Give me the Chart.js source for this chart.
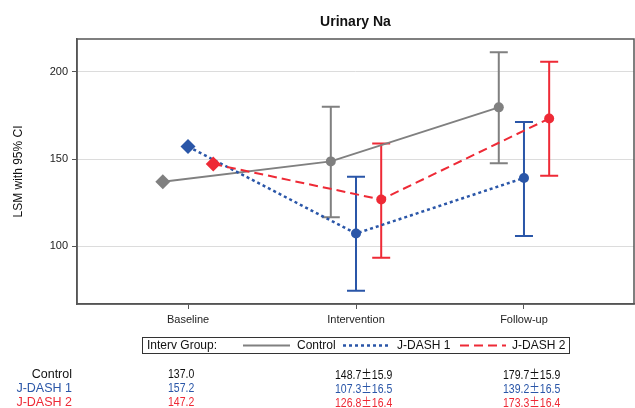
<!DOCTYPE html>
<html>
<head>
<meta charset="utf-8">
<script src="https://cdn.jsdelivr.net/npm/chart.js@4/dist/chart.umd.min.js"></script>
<style>
  html, body { margin: 0; padding: 0; background: #fff; }
  #wrap { position: relative; width: 635px; height: 408px; font-family: "Liberation Sans", Arial, sans-serif; }
  #c { position: absolute; left: 0; top: 0; }
  #title { position: absolute; left: 77px; width: 557px; top: 12px; text-align: center; font-weight: bold; font-size: 14px; color: #111; line-height: 18px; }
  #legend { position: absolute; left: 142px; top: 337px; width: 426px; height: 15px; border: 1px solid #333; font-size: 12px; color: #111; }
  #legend span, #legend svg { position: absolute; top: 0; line-height: 15px; }
  .row { position: absolute; font-size: 12.5px; line-height: 14px; white-space: nowrap; }
  .lab { text-align: right; width: 72px; left: 0; }
  .val { transform: scaleX(0.84); transform-origin: left center; }
  .pm { font-family: "Noto Sans CJK JP", sans-serif; }
</style>
</head>
<body>
<div id="wrap">
  <canvas id="c" width="635" height="408"></canvas>
  <div id="title"></div>
  <div id="legend"></div>
  <div id="table"></div>
</div>
<script>
// ---- data ----
const titleText = "Urinary Na";
const yAxisTitle = "LSM with 95% CI";
const categories = ["Baseline", "Intervention", "Follow-up"];
const yTicks = [100, 150, 200];
const seriesNames = ["Control", "J-DASH 1", "J-DASH 2"];
const controlMean = [137.0, 148.7, 179.7];
const jdash1Mean  = [157.2, 107.3, 139.2];
const jdash2Mean  = [147.2, 126.8, 173.3];
const controlSE = [null, 15.9, 15.9];
const jdash1SE  = [null, 16.5, 16.5];
const jdash2SE  = [null, 16.4, 16.4];
const controlLower = [null, 116.7, 147.7];
const controlUpper = [null, 180.0, 211.3];
const jdash1Lower  = [null, 74.5, 105.9];
const jdash1Upper  = [null, 139.9, 171.3];
const jdash2Lower  = [null, 93.5, 140.5];
const jdash2Upper  = [null, 159.0, 205.9];
const legendTitle = "Interv Group:";

// ---- styles ----
const colors = ["#808080", "#2a56a8", "#ee2a36"];
const dashes = [[], [3, 3], [9, 5]];
const lineWidths = [2, 2.5, 2];
const groupShift = [-0.15, 0, 0.15];

const means = [controlMean, jdash1Mean, jdash2Mean];
const ses = [controlSE, jdash1SE, jdash2SE];
const lowers = [controlLower, jdash1Lower, jdash2Lower];
const uppers = [controlUpper, jdash1Upper, jdash2Upper];

document.getElementById('title').textContent = titleText;

const datasets = seriesNames.map((name, s) => ({
  label: name,
  data: means[s].map((v, i) => ({ x: i + groupShift[s], y: v })),
  borderColor: colors[s],
  backgroundColor: colors[s],
  pointBackgroundColor: colors[s],
  pointBorderColor: colors[s],
  borderWidth: lineWidths[s],
  borderDash: dashes[s],
  pointStyle: means[s].map((v, i) => i === 0 ? 'rectRot' : 'circle'),
  pointRadius: means[s].map((v, i) => i === 0 ? 7.5 : 5),
  pointBorderWidth: 0,
  tension: 0,
  order: 3 - s,
  errLower: lowers[s],
  errUpper: uppers[s]
}));

const errorBars = {
  id: 'errorBars',
  beforeDatasetsDraw(chart) {
    const ctx = chart.ctx;
    const xs = chart.scales.x, ys = chart.scales.y;
    chart.data.datasets.forEach((ds, s) => {
      ds.data.forEach((p, i) => {
        const lo = ds.errLower[i], hi = ds.errUpper[i];
        if (lo == null || hi == null) return;
        const x = xs.getPixelForValue(p.x);
        const yl = ys.getPixelForValue(lo), yh = ys.getPixelForValue(hi);
        ctx.save();
        ctx.strokeStyle = ds.borderColor;
        ctx.lineWidth = 2;
        ctx.setLineDash([]);
        ctx.beginPath();
        ctx.moveTo(x, yl); ctx.lineTo(x, yh);
        ctx.moveTo(x - 9, yl); ctx.lineTo(x + 9, yl);
        ctx.moveTo(x - 9, yh); ctx.lineTo(x + 9, yh);
        ctx.stroke();
        ctx.restore();
      });
    });
  }
};

const frame = {
  id: 'frame',
  afterDraw(chart) {
    const a = chart.chartArea, ctx = chart.ctx;
    ctx.save();
    ctx.strokeStyle = '#555';
    ctx.lineWidth = 1.5;
    ctx.strokeRect(a.left, a.top, a.right - a.left, a.bottom - a.top);
    ctx.restore();
  }
};

new Chart(document.getElementById('c'), {
  type: 'line',
  data: { datasets },
  options: {
    responsive: false,
    animation: false,
    layout: { autoPadding: false, padding: { top: 39, right: 1, left: 0, bottom: 0 } },
    plugins: { legend: { display: false }, tooltip: { enabled: false }, title: { display: false } },
    scales: {
      x: {
        type: 'linear',
        min: -0.661, max: 2.655,
        afterFit(scale) { scale.height = 104; },
        afterBuildTicks(scale) { scale.ticks = categories.map((c, i) => ({ value: i })); },
        ticks: {
          callback: (v) => categories[v],
          font: { family: "'Liberation Sans', Arial, sans-serif", size: 11 },
          color: '#222',
          padding: 4,
          maxRotation: 0
        },
        grid: { drawOnChartArea: false, drawTicks: true, tickLength: 5, tickColor: '#555', tickWidth: 1 },
        border: { display: true, color: '#555', width: 1.5 }
      },
      y: {
        min: 66.9, max: 218.9,
        afterFit(scale) { scale.width = 77; },
        afterBuildTicks(scale) { scale.ticks = yTicks.map(v => ({ value: v })); },
        ticks: {
          font: { family: "'Liberation Sans', Arial, sans-serif", size: 11 },
          color: '#222',
          padding: 4
        },
        grid: { color: '#dcdcdc', lineWidth: 1, drawTicks: true, tickLength: 5, tickColor: '#555' },
        border: { display: true, color: '#555', width: 1.5 },
        title: {
          display: true, text: yAxisTitle, color: '#111',
          font: { family: "'Liberation Sans', Arial, sans-serif", size: 12 },
          padding: { top: 11, bottom: 0 }
        }
      }
    }
  },
  plugins: [errorBars, frame]
});

// ---- legend (HTML) ----
const legend = document.getElementById('legend');
function addSpan(text, left) {
  const sp = document.createElement('span');
  sp.textContent = text; sp.style.left = left + 'px';
  legend.appendChild(sp);
}
function addLine(s, left, width) {
  const ns = 'http://www.w3.org/2000/svg';
  const svg = document.createElementNS(ns, 'svg');
  svg.setAttribute('width', width); svg.setAttribute('height', 15);
  svg.style.left = left + 'px';
  const l = document.createElementNS(ns, 'line');
  l.setAttribute('x1', 0); l.setAttribute('x2', width);
  l.setAttribute('y1', 7.5); l.setAttribute('y2', 7.5);
  l.setAttribute('stroke', colors[s]);
  l.setAttribute('stroke-width', lineWidths[s]);
  if (dashes[s].length) l.setAttribute('stroke-dasharray', dashes[s].join(','));
  svg.appendChild(l);
  legend.appendChild(svg);
}
const lx = 142;
addSpan(legendTitle, 147 - lx - 1);
addLine(0, 243 - lx - 1, 47); addSpan(seriesNames[0], 297 - lx - 1);
addLine(1, 343 - lx - 1, 45); addSpan(seriesNames[1], 397 - lx - 1);
addLine(2, 460 - lx - 1, 46); addSpan(seriesNames[2], 512 - lx - 1);

// ---- table (HTML) ----
const table = document.getElementById('table');
const rowTops = [367, 381, 395];
const colLefts = [168, 335, 503];
const labelColors = ["#111", colors[1], colors[2]];
seriesNames.forEach((name, s) => {
  const lab = document.createElement('div');
  lab.className = 'row lab';
  lab.style.top = rowTops[s] + 'px';
  lab.style.color = labelColors[s];
  lab.textContent = name;
  table.appendChild(lab);
  means[s].forEach((m, i) => {
    const d = document.createElement('div');
    d.className = 'row val';
    d.style.top = rowTops[s] + 'px';
    d.style.left = colLefts[i] + 'px';
    d.style.color = labelColors[s];
    d.appendChild(document.createTextNode(m.toFixed(1)));
    if (ses[s][i] != null) {
      const pm = document.createElement('span');
      pm.className = 'pm'; pm.textContent = '±';
      d.appendChild(pm);
      d.appendChild(document.createTextNode(ses[s][i].toFixed(1)));
    }
    table.appendChild(d);
  });
});
</script>
</body>
</html>
